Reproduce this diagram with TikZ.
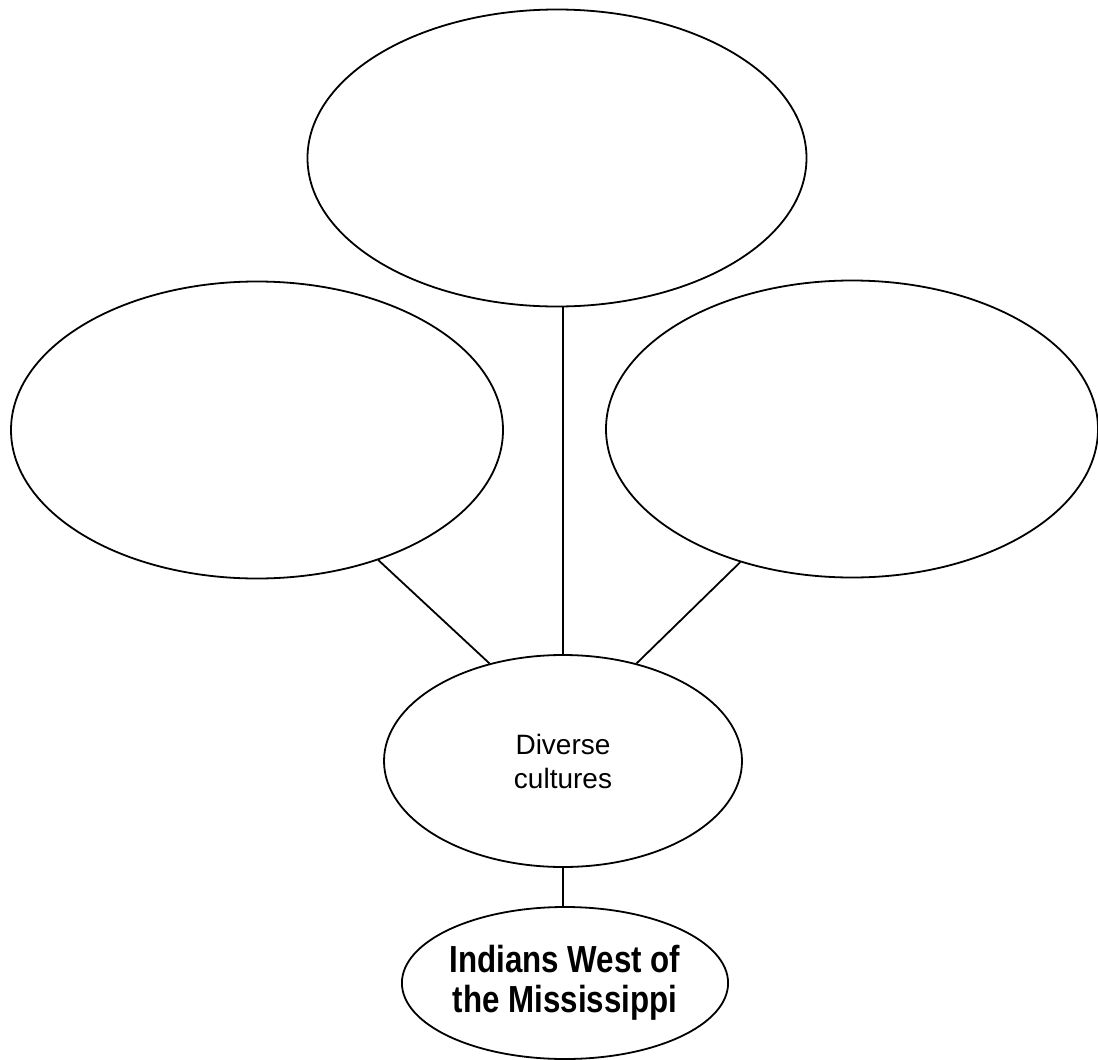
\documentclass[tikz,border=0pt]{standalone}
\usepackage{fontspec}
\setmainfont{Liberation Sans}
\newfontfamily\condb[FakeStretch=0.83]{Liberation Sans}
\usetikzlibrary{shapes.geometric}
\tikzset{
  oval/.style={ellipse, draw=black, line width=1.8pt, inner sep=0pt},
  conn/.style={draw=black, line width=1.8pt},
  smalltext/.style={align=center, font=\fontsize{28}{34}\selectfont},
  boldtext/.style={align=center, font=\condb\bfseries\fontsize{37.7}{40}\selectfont}
}
\begin{document}
\begin{tikzpicture}[x=1pt,y=-1pt]
\useasboundingbox[fill=white] (0,0) rectangle (1098,1060);
\node[oval, minimum width=499pt, minimum height=297pt] (top) at (557,158) {};
\node[oval, minimum width=492pt, minimum height=297pt] (left) at (257,430) {};
\node[oval, minimum width=492pt, minimum height=297pt] (right) at (852,429) {};
\node[oval, minimum width=358pt, minimum height=212pt, smalltext] (mid) at (563,761) {Diverse\\cultures};
\node[oval, minimum width=316pt, minimum height=152pt, boldtext] (bot) at (565,983) {Indians West of\\the Mississippi};
\draw[conn] (mid.north) -- (mid.north |- top.south);
\draw[conn] (left.-47.3) -- (mid.127.7);
\draw[conn] (right.-130.8) -- (mid.53);
\draw[conn] (mid.south) -- (mid.south |- bot.north);
\end{tikzpicture}
\end{document}
